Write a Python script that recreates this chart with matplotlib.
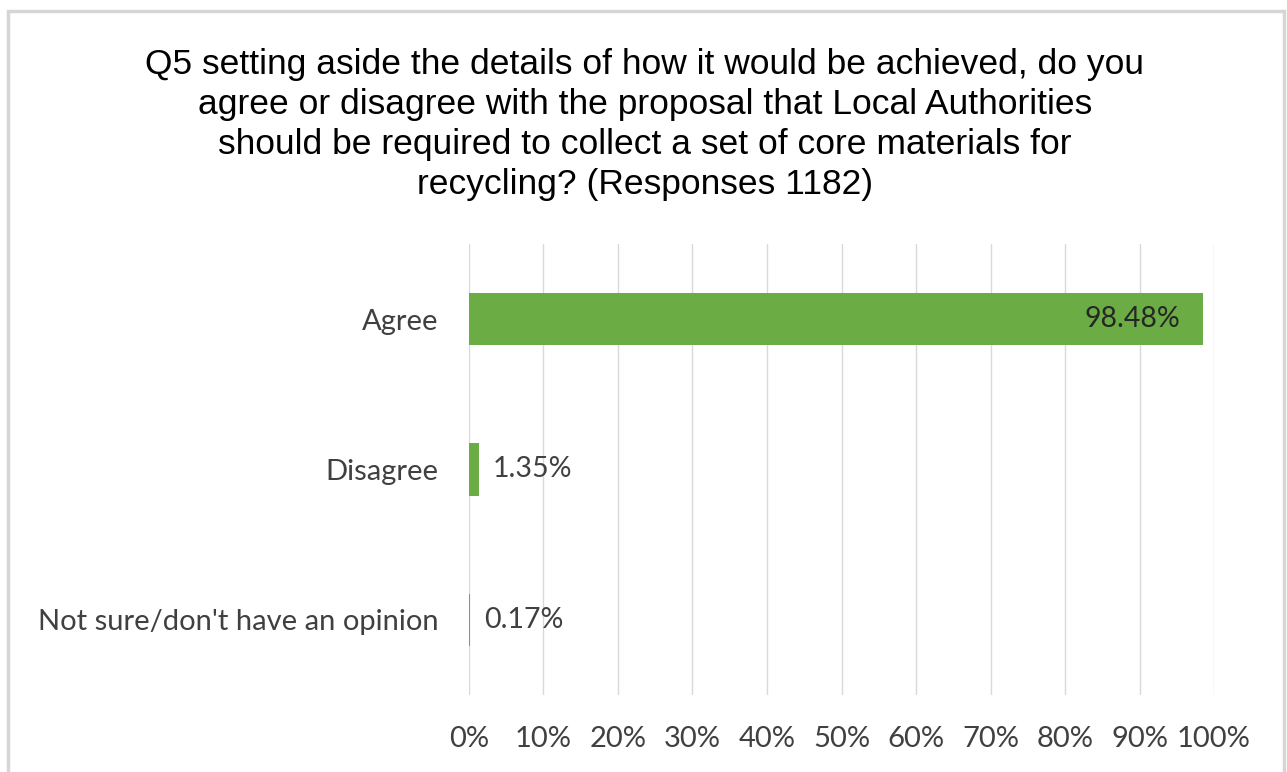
import matplotlib.pyplot as plt
from matplotlib.patches import Rectangle
from matplotlib.ticker import FuncFormatter, MultipleLocator

# survey answers, top to bottom
categories = ["Agree", "Disagree", "Not sure/don't have an opinion"]
percent = [98.48, 1.35, 0.17]
value_labels = ["98.48%", "1.35%", "0.17%"]

title = ("Q5 setting aside the details of how it would be achieved, do you\n"
         "agree or disagree with the proposal that Local Authorities\n"
         "should be required to collect a set of core materials for\n"
         "recycling? (Responses 1182)")

green = "#6cac44"
text_grey = "#404040"
label_font = ["Lato", "DejaVu Sans"]

fig = plt.figure(figsize=(12.87, 7.72), dpi=100)
ax = fig.add_axes([0.3644, 0.0997, 0.5789, 0.5843])

# chart frame
fig.patches.append(Rectangle((8 / 1287, -0.05), 1276 / 1287, 1.05 - 11 / 772,
                             transform=fig.transFigure, fill=False,
                             edgecolor="#d6d6d6", linewidth=2.5))

ypos = list(range(len(categories)))
ax.barh(ypos, percent, height=0.35, color=green, zorder=3)

for y, v, s in zip(ypos, percent, value_labels):
    if v > 50:
        ax.text(v - 3, y, s, ha="right", va="center", fontsize=20.5,
                color="#262626", family=label_font, zorder=4)
    else:
        ax.text(v + 1.8, y, s, ha="left", va="center", fontsize=20.5,
                color=text_grey, family=label_font, zorder=4)

ax.set_xlim(0, 100)
ax.set_ylim(2.5, -0.5)
ax.xaxis.set_major_locator(MultipleLocator(10))
ax.xaxis.set_major_formatter(FuncFormatter(lambda x, p: f"{x:.0f}%"))
ax.set_yticks(ypos)
ax.set_yticklabels(categories)
ax.grid(axis="x", color="#d9d9d9", linewidth=1, zorder=0)
ax.tick_params(length=0, labelsize=21, labelcolor=text_grey)
ax.tick_params(axis="y", pad=22)
ax.tick_params(axis="x", pad=22)
for lab in ax.get_xticklabels() + ax.get_yticklabels():
    lab.set_family(label_font)
for sp in ax.spines.values():
    sp.set_visible(False)

fig.text(0.501, 0.938, title, ha="center", va="top", fontsize=25.5,
         family=["Liberation Sans", "DejaVu Sans"], color="black",
         linespacing=1.27)

fig.savefig("out.png", dpi=100)
